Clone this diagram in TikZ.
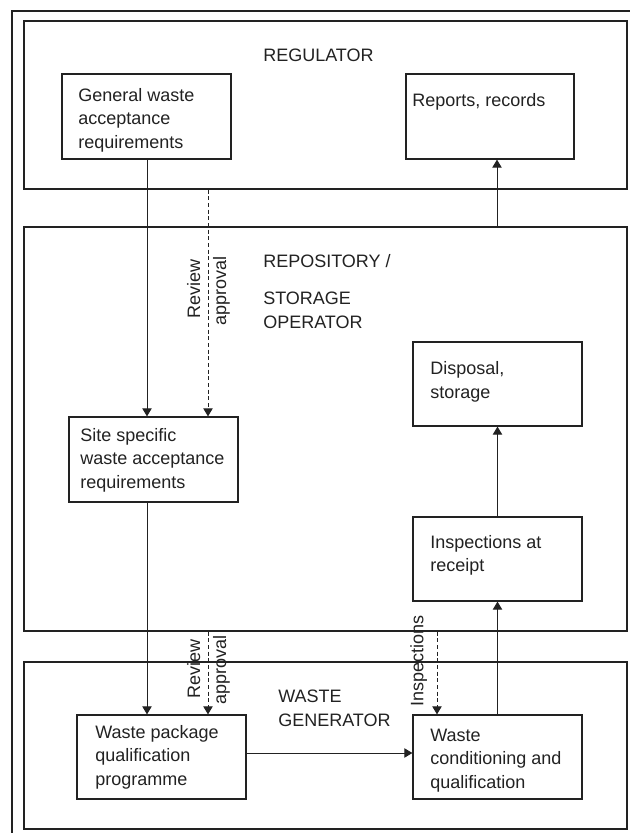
\documentclass[tikz,border=0pt]{standalone}
\usepackage{fontspec}
\setmainfont{Liberation Sans}
\usetikzlibrary{arrows.meta,fit}
\definecolor{ink}{HTML}{222222}
\begin{document}
\begin{tikzpicture}[x=0.75pt,y=-0.75pt,
  panel/.style={draw=ink, line width=1.1pt, inner sep=0pt},
  box/.style={draw=ink, line width=0.9pt, inner sep=0pt},
  txt/.style={text=ink, inner sep=0pt, align=left, anchor=base west, font=\fontsize{13.5}{17.6}\selectfont},
  conn/.style={draw=ink, line width=0.75pt, -{Triangle[length=6pt,width=7pt]}},
  dconn/.style={conn, dash pattern=on 3pt off 2pt}]
\useasboundingbox (0,0) rectangle (630,833);
\fill[white] (0,0) rectangle (630,833);
\draw[ink, line width=1.6pt] (12,833) -- (12,11) -- (630,11);
% panels
\node[panel, fit={(24,21) (627,189)}] (reg) {};
\node[panel, fit={(24,227) (627,631)}] (repo) {};
\node[panel, fit={(24,662) (627,829)}] (wg) {};
% boxes
\node[box, fit={(62,74) (231,159)}] (gen) {};
\node[box, fit={(406,74) (574,159)}] (rep) {};
\node[box, fit={(69,417) (238,502)}] (site) {};
\node[box, fit={(413,342) (582,426)}] (disp) {};
\node[box, fit={(413,517) (582,601)}] (insp) {};
\node[box, fit={(77,715) (246,799)}] (wpq) {};
\node[box, fit={(413,715) (582,799)}] (wcq) {};
% texts (base anchor = baseline of the last line)
\node[txt] (tregl) at (263,61) {REGULATOR};
\node[txt] (tgen) at (78,148) {General waste\\acceptance\\requirements};
\node[txt] (trep) at (412,106.7) {Reports, records};
\node[txt] (trepo1) at (263,267.7) {REPOSITORY /};
\node[txt] (trepo2) at (263,328.3) {STORAGE\\OPERATOR};
\node[txt] (tsite) at (80,488.3) {Site specific\\waste acceptance\\requirements};
\node[txt] (tdisp) at (430,398.3) {Disposal,\\storage};
\node[txt] (tinsp) at (430,571.7) {Inspections at\\receipt};
\node[txt] (twcq) at (430,788.3) {Waste\\conditioning and\\qualification};
\node[txt] (twpq) at (95,785) {Waste package\\qualification\\programme};
\node[txt] (twg) at (278,726) {WASTE\\GENERATOR};
% rotated labels
\node[txt, rotate=90] (rv1) at (200,318.3) {Review};
\node[txt, rotate=90] (ap1) at (226,326) {approval};
\node[txt, rotate=90] (rv2) at (200,698.3) {Review};
\node[txt, rotate=90] (ap2) at (226,705) {approval};
\node[txt, rotate=90] (tins) at (423.3,706.7) {Inspections};
% guide coordinates
\coordinate (xa) at (147,0);
\coordinate (xb) at (208,0);
\coordinate (xc) at (437,0);
\coordinate (xd) at (497,0);
\coordinate (ya) at (0,753);
% connectors
\draw[conn] (gen.south -| xa) -- (site.north -| xa);
\draw[dconn] (reg.south -| xb) -- (site.north -| xb);
\draw[conn] (repo.north -| xd) -- (rep.south -| xd);
\draw[conn] (site.south -| xa) -- (wpq.north -| xa);
\draw[dconn] (repo.south -| xb) -- (wpq.north -| xb);
\draw[conn] (wpq.east |- ya) -- (wcq.west |- ya);
\draw[dconn] (repo.south -| xc) -- (wcq.north -| xc);
\draw[conn] (wcq.north) -- (insp.south);
\draw[conn] (insp.north) -- (disp.south);
\end{tikzpicture}
\end{document}
